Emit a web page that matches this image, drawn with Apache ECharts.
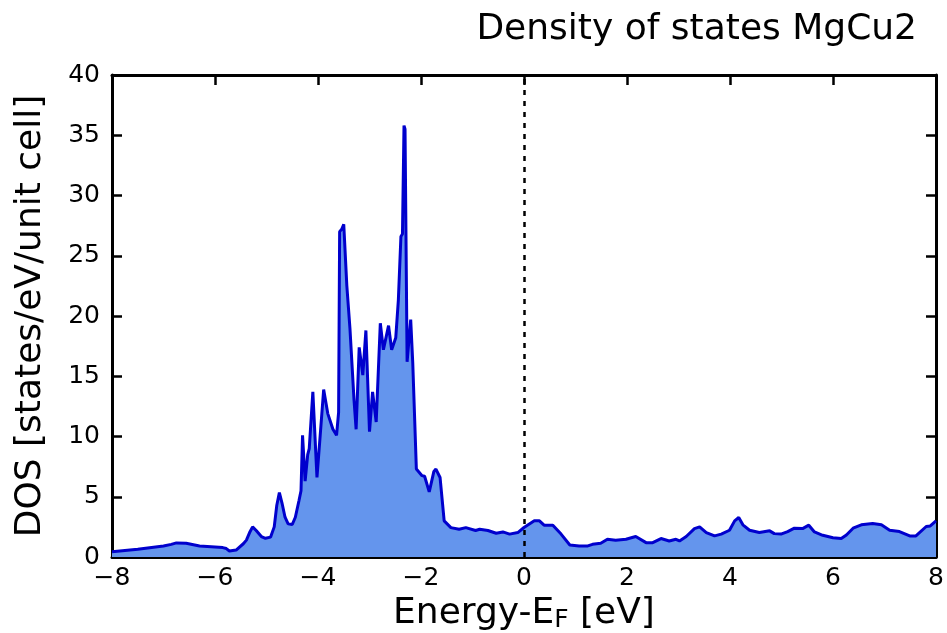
<!DOCTYPE html>
<html>
<head>
<meta charset="utf-8">
<script src="https://cdn.jsdelivr.net/npm/echarts@6/dist/echarts.min.js"></script>
<style>
  html, body { margin: 0; padding: 0; background: #fff; }
  #chart { width: 947px; height: 633px; }
</style>
</head>
<body>
<div id="chart"></div>
<script>
// energy relative to Fermi level [eV]
const energy = [
  -8.0, -7.5, -7.0, -6.85, -6.75, -6.56, -6.3, -5.85, -5.78, -5.72, -5.59, -5.45, -5.39, -5.32, -5.27,
  -5.2, -5.1, -5.02, -4.92, -4.85, -4.8, -4.75, -4.7, -4.64, -4.58, -4.5, -4.44, -4.37, -4.33, -4.3,
  -4.25, -4.2, -4.17, -4.14, -4.1, -4.02, -3.95, -3.89, -3.81, -3.71, -3.64, -3.6, -3.58, -3.54, -3.5,
  -3.44, -3.38, -3.3, -3.26, -3.2, -3.13, -3.07, -3.0, -2.94, -2.87, -2.79, -2.73, -2.63, -2.57, -2.49,
  -2.44, -2.39, -2.36, -2.33, -2.31, -2.27, -2.2, -2.16, -2.09, -1.98, -1.93, -1.84, -1.75, -1.71, -1.63,
  -1.55, -1.42, -1.26, -1.13, -0.94, -0.86, -0.7, -0.54, -0.41, -0.28, -0.12, 0.0, 0.2, 0.3, 0.39,
  0.56, 0.72, 0.89, 1.07, 1.24, 1.33, 1.49, 1.62, 1.78, 1.98, 2.17, 2.37, 2.5, 2.66, 2.82,
  2.95, 3.02, 3.15, 3.31, 3.41, 3.54, 3.7, 3.83, 3.99, 4.09, 4.17, 4.25, 4.38, 4.57, 4.77,
  4.86, 4.99, 5.12, 5.25, 5.41, 5.53, 5.64, 5.8, 6.0, 6.16, 6.26, 6.39, 6.55, 6.77, 6.94,
  7.1, 7.29, 7.49, 7.61, 7.81, 7.89, 8.0
];

// density of states [states/eV/unit cell]
const dos = [
  0.44, 0.65, 0.92, 1.05, 1.17, 1.14, 0.92, 0.78, 0.7, 0.5, 0.58, 1.1, 1.4, 2.1, 2.5,
  2.2, 1.7, 1.55, 1.65, 2.5, 4.3, 5.35, 4.5, 3.3, 2.75, 2.7, 3.3, 4.67, 5.5, 10.1,
  6.3, 8.5, 9.0, 9.1, 13.7, 6.6, 10.5, 13.9, 11.9, 10.6, 10.1, 12.0, 27.0, 27.2, 27.6,
  22.5, 19.0, 13.0, 10.6, 17.4, 15.1, 18.8, 10.4, 13.7, 11.2, 19.4, 17.2, 19.2, 17.2, 18.2,
  21.3, 26.6, 26.8, 35.8, 35.5, 16.2, 19.7, 16.1, 7.3, 6.75, 6.7, 5.4, 7.1, 7.3, 6.6,
  3.0, 2.44, 2.3, 2.44, 2.2, 2.3, 2.2, 1.97, 2.08, 1.9, 2.03, 2.45, 3.0, 3.0, 2.64,
  2.64, 1.9, 1.0, 0.92, 0.92, 1.05, 1.14, 1.47, 1.39, 1.47, 1.7, 1.19, 1.19, 1.53, 1.33,
  1.47, 1.33, 1.7, 2.36, 2.5, 2.03, 1.75, 1.9, 2.22, 3.0, 3.28, 2.67, 2.22, 2.03, 2.17,
  1.94, 1.9, 2.11, 2.39, 2.36, 2.64, 2.08, 1.8, 1.6, 1.53, 1.83, 2.39, 2.67, 2.78, 2.67,
  2.22, 2.11, 1.75, 1.75, 2.53, 2.58, 3.0
];

const xTicks = { min: -8, max: 8, interval: 2 };
const yTicks = { min: 0, max: 40, interval: 5 };
const fermiLevel = 0;

const FONT = "DejaVu Sans";

// matplotlib draws a real minus sign
const minusFmt = (v) => String(v).replace("-", "\u2212");

const chart = echarts.init(document.getElementById("chart"), null, { renderer: "canvas" });

const axisCommon = {
  axisLine: { show: true, onZero: false, lineStyle: { color: "#000", width: 3 } },
  axisTick: { show: true, inside: true, length: 10, lineStyle: { color: "#000", width: 2.5 } },
  splitLine: { show: false },
};

const option = {
  animation: false,
  backgroundColor: "#fff",
  title: {
    text: "Density of states MgCu2",
    right: 25,
    top: 7,
    textStyle: { fontFamily: FONT, fontSize: 36, fontWeight: "normal", color: "#000" },
  },
  grid: { left: 112, right: 11, top: 75, bottom: 76, outerBoundsMode: "none", containLabel: false },
  xAxis: [
    {
      type: "value",
      ...xTicks,
      position: "bottom",
      ...axisCommon,
      axisLabel: { fontFamily: FONT, fontSize: 25, color: "#000", margin: 9, formatter: minusFmt },
      name: "{a|Energy-E}{b|F}{a| [eV]}",
      nameLocation: "middle",
      nameGap: 36,
      nameTextStyle: {
        rich: {
          a: { fontFamily: FONT, fontSize: 36, color: "#000" },
          b: { fontFamily: FONT, fontSize: 25, color: "#000", padding: [14, 0, 0, 0] },
        },
      },
    },
    {
      type: "value",
      ...xTicks,
      position: "top",
      ...axisCommon,
      axisLabel: { show: false },
    },
  ],
  yAxis: [
    {
      type: "value",
      ...yTicks,
      position: "left",
      ...axisCommon,
      axisLabel: { fontFamily: FONT, fontSize: 25, color: "#000", margin: 12 },
      name: "DOS [states/eV/unit cell]",
      nameLocation: "middle",
      nameGap: 63,
      nameTextStyle: { fontFamily: FONT, fontSize: 36, color: "#000" },
    },
    {
      type: "value",
      ...yTicks,
      position: "right",
      ...axisCommon,
      axisLabel: { show: false },
    },
  ],
  series: [
    {
      type: "line",
      data: energy.map((e, i) => [e, dos[i]]),
      showSymbol: false,
      smooth: false,
      lineStyle: { color: "#0000CD", width: 3 },
      areaStyle: { color: "#6495ED", opacity: 1 },
      markLine: {
        silent: true,
        symbol: "none",
        label: { show: false },
        lineStyle: { color: "#000", type: [5, 6], width: 2.5 },
        data: [{ xAxis: fermiLevel }],
      },
      z: 2,
    },
  ],
};

chart.setOption(option);
</script>
</body>
</html>
